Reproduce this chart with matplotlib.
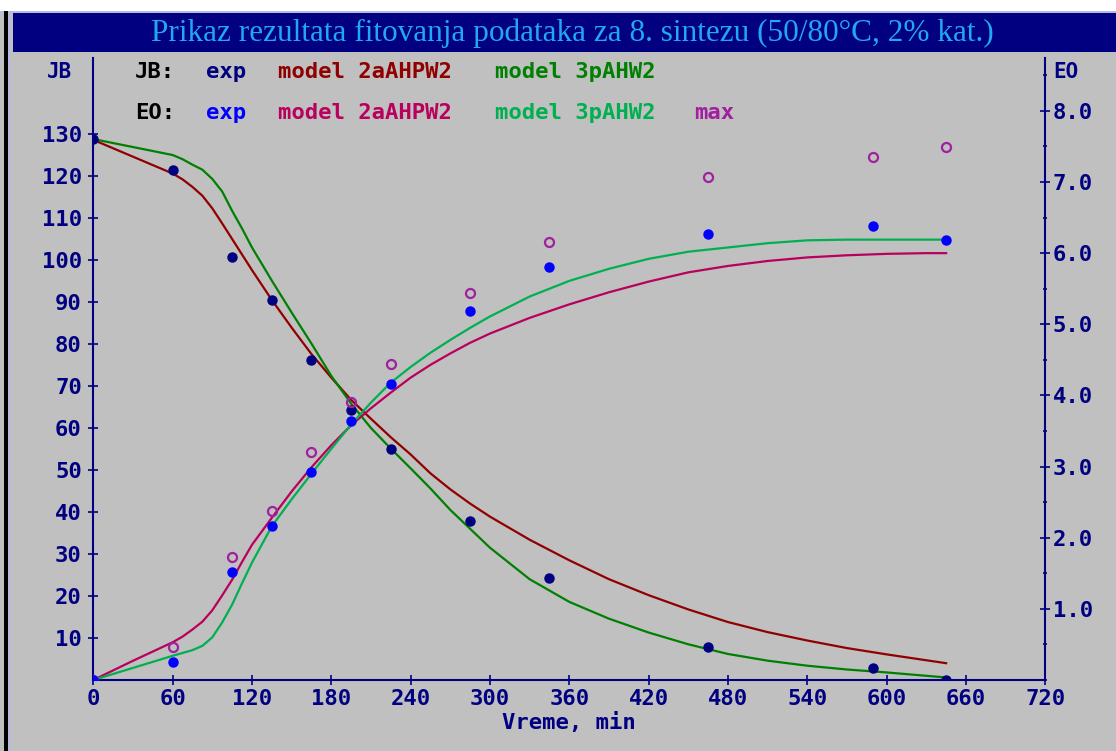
import matplotlib
matplotlib.use("Agg")
import matplotlib.pyplot as plt
from matplotlib.patches import Rectangle
from matplotlib.ticker import MultipleLocator, FormatStrFormatter

W, H = 1116, 751

# experimental points
t_exp = [0, 60, 105, 135, 165, 195, 225, 285, 345, 465, 590, 645]
jb_exp = [128.8, 121.4, 100.8, 90.4, 76.2, 64.3, 55.0, 37.8, 24.2, 7.9, 2.8, 0.0]
eo_exp = [0.0, 0.25, 1.52, 2.16, 2.93, 3.64, 4.16, 5.18, 5.81, 6.27, 6.38, 6.18]
eo_max = [0.0, 0.47, 1.73, 2.37, 3.21, 3.91, 4.44, 5.44, 6.16, 7.07, 7.35, 7.49]

# model curves
t_mod = [0, 30, 60, 67.5, 75, 82.5, 90, 97.5, 105, 112.5, 120, 135, 150, 165, 180,
         195, 210, 225, 240, 255, 270, 285, 300, 330, 360, 390, 420, 450, 480,
         510, 540, 570, 600, 630, 645]
jb_2a = [128.6, 124.6, 120.6, 119.2, 117.4, 115.3, 112.3, 108.7, 105.0, 101.3, 97.6,
         90.5, 83.9, 77.6, 72.0, 66.7, 62.2, 57.8, 53.7, 49.2, 45.4, 42.0, 38.9,
         33.4, 28.5, 24.0, 20.2, 16.8, 13.8, 11.4, 9.4, 7.6, 6.1, 4.7, 4.0]
jb_3p = [128.8, 126.9, 125.0, 124.0, 122.7, 121.5, 119.3, 116.3, 111.7, 107.5, 103.0,
         95.1, 87.5, 80.1, 72.4, 65.8, 60.0, 55.1, 50.4, 45.6, 40.5, 36.0, 31.5,
         24.0, 18.6, 14.6, 11.3, 8.5, 6.2, 4.6, 3.4, 2.5, 1.8, 1.0, 0.6]
eo_2a = [0.0, 0.27, 0.53, 0.61, 0.71, 0.82, 0.98, 1.19, 1.41, 1.66, 1.90, 2.28, 2.65,
         2.99, 3.30, 3.58, 3.82, 4.04, 4.25, 4.43, 4.59, 4.74, 4.87, 5.09, 5.28,
         5.45, 5.60, 5.73, 5.82, 5.89, 5.94, 5.97, 5.99, 6.00, 6.00]
eo_3p = [0.0, 0.17, 0.34, 0.38, 0.42, 0.48, 0.60, 0.81, 1.06, 1.36, 1.65, 2.16, 2.54,
         2.90, 3.25, 3.59, 3.90, 4.18, 4.40, 4.60, 4.78, 4.95, 5.11, 5.39, 5.61,
         5.78, 5.92, 6.02, 6.08, 6.14, 6.18, 6.19, 6.19, 6.19, 6.19]

title = "Prikaz rezultata fitovanja podataka za 8. sintezu (50/80°C, 2% kat.)"

navy = "#000080"
gray = "#C0C0C0"
mono = "DejaVu Sans Mono"


def fx(x):
    return x / W


def fy(y):
    return 1 - y / H


fig = plt.figure(figsize=(W / 100, H / 100), dpi=100, facecolor=gray)

# window frame and title bar
fig.patches.append(Rectangle((0, fy(11)), 1, 11 / H, transform=fig.transFigure,
                             facecolor="white", edgecolor="none"))
fig.patches.append(Rectangle((0, fy(13)), 1, 2 / H, transform=fig.transFigure,
                             facecolor="#B8B8E0", edgecolor="none"))
fig.patches.append(Rectangle((fx(13), fy(52)), 1, 39 / H, transform=fig.transFigure,
                             facecolor=navy, edgecolor="none"))
fig.patches.append(Rectangle((fx(4), 0), 3.5 / W, fy(11), transform=fig.transFigure,
                             facecolor="black", edgecolor="none"))
fig.patches.append(Rectangle((fx(7.5), 0), 2 / W, fy(13), transform=fig.transFigure,
                             facecolor="#B8B8E0", edgecolor="none"))
fig.text(fx(572), fy(33), title, ha="center", va="center", color="#22A8F0",
         fontsize=22.5, family="Liberation Serif")

ax = fig.add_axes([fx(93.3), fy(680), (1045.3 - 93.3) / W, (680 - 58) / H])
ax.set_facecolor(gray)
ax2 = ax.twinx()

ax.plot(t_mod, jb_2a, color="#900000", lw=1.6, zorder=2)
ax.plot(t_mod, jb_3p, color="#008000", lw=1.6, zorder=2)
ax.plot(t_exp, jb_exp, "o", color=navy, ms=6.5, zorder=3)

ax2.plot(t_mod, eo_2a, color="#B8005C", lw=1.6)
ax2.plot(t_mod, eo_3p, color="#00B050", lw=1.6)
ax2.plot(t_exp, eo_max, "o", mfc="none", mec="#A020A0", mew=1.6, ms=6.5)
ax2.plot(t_exp, eo_exp, "o", color="#0000FF", ms=6.5)

ax.set_xlim(0, 720)
ax.set_ylim(0, 148.1)
ax2.set_ylim(0, 8.743)

ax.set_xticks(range(0, 721, 60))
ax.set_yticks(range(10, 131, 10))
ax2.set_yticks([1, 2, 3, 4, 5, 6, 7, 8])
ax2.yaxis.set_minor_locator(MultipleLocator(0.5))
ax2.yaxis.set_major_formatter(FormatStrFormatter("%.1f"))

for a in (ax, ax2):
    for s in a.spines.values():
        s.set_visible(False)
ax.spines["left"].set_visible(True)
ax.spines["bottom"].set_visible(True)
ax2.spines["right"].set_visible(True)
for s in (ax.spines["left"], ax.spines["bottom"], ax2.spines["right"]):
    s.set_color(navy)
    s.set_linewidth(1.5)

ax.tick_params(axis="both", direction="inout", length=6.5, width=1.2, color=navy,
               labelcolor=navy, labelsize=16)
ax.tick_params(axis="x", pad=3)
ax.tick_params(axis="y", pad=5)
ax2.tick_params(axis="y", which="major", direction="inout", length=6.5, width=1.2,
                color=navy, labelcolor=navy, labelsize=16, pad=2)
ax2.tick_params(axis="y", which="minor", direction="inout", length=3, width=1.2,
                color=navy)
for lab in ax.get_xticklabels() + ax.get_yticklabels() + ax2.get_yticklabels():
    lab.set_family(mono)
    lab.set_weight("bold")

# axis titles
fig.text(fx(60), fy(72), "JB", ha="center", va="center", color=navy,
         fontsize=15, family=mono, weight="bold")
fig.text(fx(1053), fy(72), "EO", ha="left", va="center", color=navy,
         fontsize=15, family=mono, weight="bold")
fig.text(fx(569), fy(722), "Vreme, min", ha="center", va="center", color=navy,
         fontsize=16, family=mono, weight="bold")

# legend rows
rows = [
    (72, [("JB:", 135, "black"), ("exp", 206, navy), ("model 2aAHPW2", 278, "#900000"),
          ("model 3pAHW2", 495, "#008000")]),
    (113, [("EO:", 135, "black"), ("exp", 206, "#0000FF"), ("model 2aAHPW2", 278, "#B8005C"),
           ("model 3pAHW2", 495, "#00B050"), ("max", 694, "#A020A0")]),
]
for y, parts in rows:
    for txt, x, c in parts:
        fig.text(fx(x), fy(y), txt, ha="left", va="center", color=c,
                 fontsize=16, family=mono, weight="bold")

fig.savefig("out.png", dpi=100, facecolor=fig.get_facecolor())
